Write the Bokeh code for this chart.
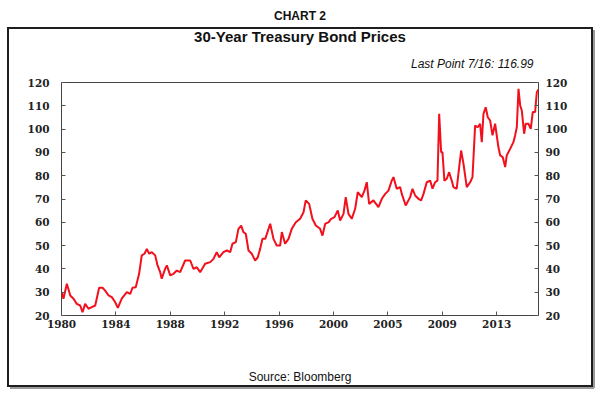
from bokeh.plotting import figure
from bokeh.models import Range1d, LinearAxis, FixedTicker, Title
from bokeh.embed import file_html
from bokeh.resources import INLINE

# ---- data ----
years = [1980.02, 1980.15, 1980.41, 1980.67, 1980.92, 1981.17, 1981.43, 1981.61, 1981.81, 1982.07,
         1982.32, 1982.58, 1982.88, 1983.14, 1983.34, 1983.60, 1983.85, 1984.11, 1984.31, 1984.61,
         1985.00, 1985.26, 1985.43, 1985.68, 1985.94, 1986.14, 1986.35, 1986.53, 1986.71, 1986.91,
         1987.17, 1987.35, 1987.55, 1987.67, 1987.93, 1988.06, 1988.32, 1988.57, 1988.82, 1989.08,
         1989.46, 1989.85, 1990.10, 1990.35, 1990.61, 1990.99, 1991.38, 1991.63, 1991.88, 1992.07,
         1992.39, 1992.65, 1992.91, 1993.08, 1993.34, 1993.54, 1993.75, 1993.92, 1994.10, 1994.31,
         1994.56, 1994.82, 1995.02, 1995.20, 1995.38, 1995.59, 1995.97, 1996.22, 1996.47, 1996.73,
         1996.86, 1997.11, 1997.37, 1997.62, 1997.93, 1998.26, 1998.52, 1998.69, 1998.95, 1999.20,
         1999.46, 1999.79, 1999.97, 2000.18, 2000.43, 2000.63, 2000.89, 2001.14, 2001.32, 2001.58,
         2001.75, 2001.96, 2002.21, 2002.47, 2002.67, 2002.98, 2003.18, 2003.36, 2003.54, 2003.87,
         2004.25, 2004.51, 2004.77, 2005.02, 2005.27, 2005.40, 2005.65, 2005.91, 2006.04, 2006.34,
         2006.68, 2006.86, 2007.06, 2007.31, 2007.52, 2007.70, 2007.95, 2008.21, 2008.39, 2008.59,
         2008.77, 2008.90, 2009.05, 2009.15, 2009.30, 2009.48, 2009.66, 2009.86, 2009.99, 2010.24,
         2010.43, 2010.58, 2010.76, 2011.01, 2011.27, 2011.45, 2011.65, 2011.85, 2012.03, 2012.16,
         2012.29, 2012.46, 2012.62, 2012.80, 2012.98, 2013.18, 2013.43, 2013.57, 2013.76, 2013.95,
         2014.07, 2014.33, 2014.58, 2014.71, 2014.84, 2014.97, 2015.10, 2015.22, 2015.40, 2015.52,
         2015.73, 2015.91, 2016.06, 2016.24, 2016.37, 2016.50]

prices = [30.0, 27.2, 33.6, 28.6, 27.2, 25.0, 24.3, 21.4, 25.0, 22.9,
          23.6, 24.3, 31.9, 31.9, 30.7, 28.6, 27.9, 25.7, 23.3, 27.2,
          30.0, 29.3, 31.9, 32.1, 37.9, 45.8, 46.5, 48.6, 46.5, 47.2,
          45.8, 41.5, 38.6, 35.8, 40.0, 41.5, 37.2, 37.9, 39.3, 38.6,
          43.6, 43.6, 40.0, 40.7, 38.6, 42.2, 42.9, 44.3, 47.2, 45.0,
          47.2, 47.9, 47.2, 50.8, 51.5, 57.2, 58.6, 55.8, 55.1, 47.9,
          46.5, 43.6, 45.0, 48.6, 52.9, 52.9, 59.4, 52.9, 50.0, 50.0,
          55.8, 50.8, 52.9, 57.2, 60.0, 61.5, 64.3, 69.4, 67.9, 61.5,
          58.6, 57.2, 54.3, 59.4, 60.0, 61.5, 62.2, 65.1, 60.8, 63.6,
          70.8, 63.6, 61.5, 65.8, 72.9, 70.8, 73.6, 77.2, 67.9, 69.4,
          66.5, 70.1, 72.2, 73.6, 77.9, 79.4, 74.4, 75.1, 72.2, 67.2,
          70.8, 74.4, 71.5, 70.1, 69.4, 72.2, 77.2, 77.9, 74.4, 77.2,
          77.9, 106.6, 90.1, 90.1, 77.9, 78.7, 81.5, 77.9, 75.1, 74.4,
          83.7, 90.8, 85.1, 75.1, 77.2, 79.4, 101.5, 100.8, 102.3, 94.4,
          106.6, 109.4, 105.1, 103.7, 97.3, 102.3, 92.3, 88.7, 88.0, 83.7,
          88.7, 91.5, 94.4, 97.3, 100.8, 117.3, 110.1, 108.0, 98.0, 102.3,
          102.3, 100.1, 107.3, 107.3, 115.8, 116.99]

y_ticks = [20, 30, 40, 50, 60, 70, 80, 90, 100, 110, 120]
x_tick_labels = ["1980", "1984", "1988", "1992", "1996", "2000", "2005", "2009", "2013"]
x_tick_step = 4.163  # the source chart spaces its date ticks evenly

x_tick_positions = [1980 + i * x_tick_step for i in range(len(x_tick_labels))]

p = figure(width=600, height=393,
           x_range=Range1d(1980, 2016.5), y_range=Range1d(20, 120),
           output_backend="svg", toolbar_location=None,
           min_border_left=61, min_border_right=62,
           min_border_top=82, min_border_bottom=78,
           background_fill_color=None, border_fill_color=None)

# outer framed box (drawn behind the transparent canvas)
g = "linear-gradient(#1e1e1e,#1e1e1e)"
s = "linear-gradient(#9a9a9a,#9a9a9a)"
p.styles = {
    "background-color": "white",
    "background-image": ", ".join([g, g, g, g, s, s]),
    "background-size": "586px 2px, 586px 2px, 2px 360px, 2px 360px, 584px 2px, 2px 358px",
    "background-position": "7px 27px, 7px 385px, 7px 27px, 591px 27px, 10px 387px, 593px 30px",
    "background-repeat": "no-repeat",
}

p.line(years, prices, line_color="#f2101c", line_width=2)

p.xgrid.visible = False
p.ygrid.visible = False
p.outline_line_color = "#444444"
p.outline_line_width = 1


def style_axis(ax):
    ax.axis_line_color = None
    ax.major_tick_in = 4
    ax.major_tick_out = 0
    ax.major_tick_line_color = "#555555"
    ax.minor_tick_line_color = None
    ax.major_label_text_font = "DejaVu Serif"
    ax.major_label_text_font_style = "bold"
    ax.major_label_text_font_size = "10.5px"
    ax.major_label_text_color = "#222222"


p.yaxis.ticker = FixedTicker(ticks=y_ticks)
style_axis(p.yaxis[0])
p.yaxis.major_label_standoff = 12

right = LinearAxis(ticker=FixedTicker(ticks=y_ticks))
style_axis(right)
right.major_label_standoff = 7
p.add_layout(right, "right")

p.xaxis.ticker = FixedTicker(ticks=x_tick_positions)
p.xaxis.major_label_overrides = {t: l for t, l in zip(x_tick_positions, x_tick_labels)}
style_axis(p.xaxis[0])
p.xaxis.major_label_standoff = 4
p.xaxis.axis_label = "Source: Bloomberg"
p.xaxis.axis_label_text_font = "Liberation Sans"
p.xaxis.axis_label_text_font_size = "12px"
p.xaxis.axis_label_text_font_style = "normal"
p.xaxis.axis_label_text_color = "#111111"
p.xaxis.axis_label_standoff = 39


def title(text, size, style, align, standoff, offset=0):
    p.add_layout(Title(text=text, text_font="Liberation Sans", text_font_size=size,
                       text_font_style=style, align=align, standoff=standoff,
                       offset=offset, text_color="#111111"), "above")


# above: inner (next to the frame) to outer
title("Last Point 7/16: 116.99", "12px", "italic", "right", 24, offset=5)
title("30-Year Treasury Bond Prices", "15px", "bold", "center", -5)
title("CHART 2", "12px", "bold", "center", 11)

open("out.html", "w").write(file_html(p, INLINE))
